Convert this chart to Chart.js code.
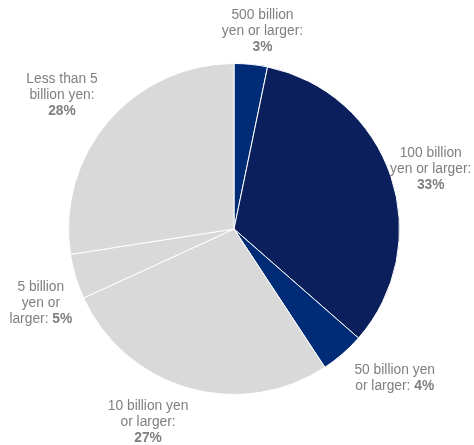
<!DOCTYPE html>
<html><head><meta charset="utf-8">
<script src="https://cdn.jsdelivr.net/npm/chart.js@4/dist/chart.umd.min.js"></script>
<style>html,body{margin:0;padding:0;background:#fff}#wrap{width:474px;height:445px}</style>
</head><body><div id="wrap"><canvas id="c"></canvas></div>
<script>
const categories = ["500 billion yen or larger", "100 billion yen or larger", "50 billion yen or larger", "10 billion yen or larger", "5 billion yen or larger", "Less than 5 billion yen"];
const shares = [3.25, 33.2, 4.3, 27.4, 4.4, 27.45];
const percentLabels = ["3%", "33%", "4%", "27%", "5%", "28%"];
const labelLines = [
  ["500 billion", "yen or larger:", ""],
  ["100 billion", "yen or larger:", ""],
  ["50 billion yen", "or larger: "],
  ["10 billion yen", "or larger:", ""],
  ["5 billion", "yen or", "larger: "],
  ["Less than 5", "billion yen:", ""]
];
const colors = ["#002c77", "#0a1f5c", "#002c77", "#d9d9d9", "#d9d9d9", "#d9d9d9"];
const labelDist = [36, 42, 50, 44, 40, 52];
const labelAngleAdj = [4, 0, -6, 7, -4, -2];
const labelNudgeX = [-6, 0, 3, -4, -1, -2];
const labelNudgeY = [1, 6, 2.5, 0, 1.5, 2];

const labelPlugin = {
  id: 'outLabels',
  afterDatasetsDraw(chart) {
    const ctx = chart.ctx;
    const meta = chart.getDatasetMeta(0);
    ctx.save();
    ctx.textBaseline = 'middle';
    const lh = 16;
    const reg = '13.8px "Liberation Sans", Arial, sans-serif';
    const bold = 'bold 13.8px "Liberation Sans", Arial, sans-serif';
    meta.data.forEach((arc, i) => {
      const p = arc.getProps(['x','y','startAngle','endAngle','outerRadius'], true);
      const mid = (p.startAngle + p.endAngle) / 2 + labelAngleAdj[i] * Math.PI / 180;
      const d = p.outerRadius + labelDist[i];
      const cx = p.x + Math.cos(mid) * d + labelNudgeX[i];
      const cy = p.y + Math.sin(mid) * d + labelNudgeY[i];
      const lines = labelLines[i];
      const n = lines.length;
      lines.forEach((t, k) => {
        const y = cy + (k - (n - 1) / 2) * lh;
        const isLast = k === n - 1;
        ctx.font = reg;
        const w1 = ctx.measureText(t).width;
        let w2 = 0;
        if (isLast) { ctx.font = bold; w2 = ctx.measureText(percentLabels[i]).width; }
        const x = cx - (w1 + w2) / 2;
        ctx.fillStyle = '#7f7f7f';
        ctx.textAlign = 'left';
        ctx.font = reg;
        ctx.fillText(t, x, y);
        if (isLast) {
          ctx.font = bold;
          ctx.fillText(percentLabels[i], x + w1, y);
        }
      });
    });
    ctx.restore();
  }
};

new Chart(document.getElementById('c'), {
  type: 'pie',
  data: { labels: categories, datasets: [{ data: shares, backgroundColor: colors, borderColor: '#ffffff', borderWidth: 1 }] },
  options: {
    responsive: true, maintainAspectRatio: false, animation: false,
    layout: { padding: { top: 63, bottom: 50, left: 68, right: 74 } },
    plugins: { legend: { display: false }, tooltip: { enabled: false } }
  },
  plugins: [labelPlugin]
});
</script></body></html>
